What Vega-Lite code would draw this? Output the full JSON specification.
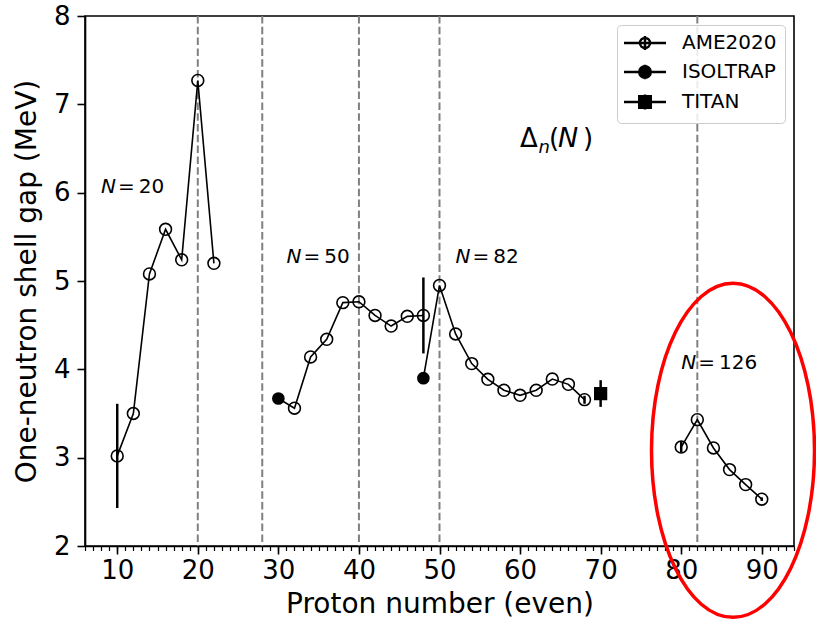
{
  "$schema": "https://vega.github.io/schema/vega-lite/v6.json",
  "width": 709,
  "height": 530,
  "autosize": "none",
  "padding": {"left": 85, "top": 16, "right": 22, "bottom": 76},
  "background": "white",
  "config": {
    "font": "DejaVu Sans",
    "view": {"stroke": "black", "strokeWidth": 1.6},
    "axis": {
      "grid": false,
      "domainColor": "black",
      "tickColor": "black",
      "labelColor": "black",
      "titleColor": "black",
      "labelFont": "DejaVu Sans",
      "titleFont": "DejaVu Sans",
      "labelFontSize": 26,
      "titleFontSize": 28,
      "titleFontWeight": "normal",
      "domainWidth": 1.6,
      "tickWidth": 1.6
    },
    "legend": {
      "labelFont": "DejaVu Sans",
      "labelFontSize": 20,
      "labelColor": "black",
      "padding": 8,
      "rowPadding": 4,
      "symbolOffset": 10,
      "labelOffset": 27,
      "symbolSize": 100,
      "symbolStrokeWidth": 2.5,
      "symbolStrokeColor": "black",
      "fillColor": "rgba(255,255,255,0.85)",
      "strokeColor": "#cccccc",
      "cornerRadius": 4
    }
  },
  "datasets": {
    "pts": [
      {"Z": 10, "gap": 3.02, "source": "AME2020", "N": "N20"},
      {"Z": 12, "gap": 3.50, "source": "AME2020", "N": "N20"},
      {"Z": 14, "gap": 5.08, "source": "AME2020", "N": "N20"},
      {"Z": 16, "gap": 5.585, "source": "AME2020", "N": "N20"},
      {"Z": 18, "gap": 5.24, "source": "AME2020", "N": "N20"},
      {"Z": 20, "gap": 7.27, "source": "AME2020", "N": "N20"},
      {"Z": 22, "gap": 5.20, "source": "AME2020", "N": "N20"},
      {"Z": 30, "gap": 3.67, "source": "ISOLTRAP", "N": "N50"},
      {"Z": 32, "gap": 3.56, "source": "AME2020", "N": "N50"},
      {"Z": 34, "gap": 4.14, "source": "AME2020", "N": "N50"},
      {"Z": 36, "gap": 4.34, "source": "AME2020", "N": "N50"},
      {"Z": 38, "gap": 4.755, "source": "AME2020", "N": "N50"},
      {"Z": 40, "gap": 4.765, "source": "AME2020", "N": "N50"},
      {"Z": 42, "gap": 4.61, "source": "AME2020", "N": "N50"},
      {"Z": 44, "gap": 4.49, "source": "AME2020", "N": "N50"},
      {"Z": 46, "gap": 4.60, "source": "AME2020", "N": "N50"},
      {"Z": 48, "gap": 4.61, "source": "AME2020", "N": "N50"},
      {"Z": 48, "gap": 3.90, "source": "ISOLTRAP", "N": "N82"},
      {"Z": 50, "gap": 4.95, "source": "AME2020", "N": "N82"},
      {"Z": 52, "gap": 4.40, "source": "AME2020", "N": "N82"},
      {"Z": 54, "gap": 4.065, "source": "AME2020", "N": "N82"},
      {"Z": 56, "gap": 3.887, "source": "AME2020", "N": "N82"},
      {"Z": 58, "gap": 3.763, "source": "AME2020", "N": "N82"},
      {"Z": 60, "gap": 3.706, "source": "AME2020", "N": "N82"},
      {"Z": 62, "gap": 3.763, "source": "AME2020", "N": "N82"},
      {"Z": 64, "gap": 3.89, "source": "AME2020", "N": "N82"},
      {"Z": 66, "gap": 3.83, "source": "AME2020", "N": "N82"},
      {"Z": 68, "gap": 3.657, "source": "AME2020", "N": "N82"},
      {"Z": 70, "gap": 3.725, "source": "TITAN", "N": "T82"},
      {"Z": 80, "gap": 3.12, "source": "AME2020", "N": "N126"},
      {"Z": 82, "gap": 3.43, "source": "AME2020", "N": "N126"},
      {"Z": 84, "gap": 3.11, "source": "AME2020", "N": "N126"},
      {"Z": 86, "gap": 2.865, "source": "AME2020", "N": "N126"},
      {"Z": 88, "gap": 2.695, "source": "AME2020", "N": "N126"},
      {"Z": 90, "gap": 2.53, "source": "AME2020", "N": "N126"}
    ],
    "errs": [
      {"Z": 10, "lo": 2.43, "hi": 3.61},
      {"Z": 48, "lo": 4.18, "hi": 5.04},
      {"Z": 68, "lo": 3.61, "hi": 3.70},
      {"Z": 70, "lo": 3.575, "hi": 3.877},
      {"Z": 80, "lo": 3.06, "hi": 3.18},
      {"Z": 90, "lo": 2.51, "hi": 2.55}
    ],
    "magic": [{"Z": 20}, {"Z": 28}, {"Z": 40}, {"Z": 50}, {"Z": 82}],
    "nlabels": [
      {"Z": 8, "gap": 6.0, "rest": "=\u200920"},
      {"Z": 31, "gap": 5.2, "rest": "=\u200950"},
      {"Z": 52, "gap": 5.2, "rest": "=\u200982"},
      {"Z": 80, "gap": 4.0, "rest": "=\u2009126"}
    ],
    "delta": [{"Z": 60, "gap": 6.517}],
    "circled": [{"Z": 86.43, "gap": 3.083}]
  },
  "layer": [
    {
      "data": {"name": "magic"},
      "mark": {"type": "rule", "color": "#808080", "strokeWidth": 2, "strokeDash": [7.5, 3.3]},
      "encoding": {
        "x": {
          "field": "Z", "type": "quantitative",
          "scale": {"domain": [6, 94], "nice": false, "zero": false},
          "axis": {"orient": "bottom", "values": [6,7,8,9,10,11,12,13,14,15,16,17,18,19,20,21,22,23,24,25,26,27,28,29,30,31,32,33,34,35,36,37,38,39,40,41,42,43,44,45,46,47,48,49,50,51,52,53,54,55,56,57,58,59,60,61,62,63,64,65,66,67,68,69,70,71,72,73,74,75,76,77,78,79,80,81,82,83,84,85,86,87,88,89,90,91,92,93,94], "labels": false, "domain": false, "tickSize": 4.5, "tickWidth": 1.2, "title": null}
        }
      }
    },
    {
      "layer": [
        {
          "data": {"name": "errs"},
          "mark": {"type": "rule", "color": "black", "strokeWidth": 2.5},
          "encoding": {
            "x": {
              "field": "Z", "type": "quantitative",
              "scale": {"domain": [6, 94], "nice": false, "zero": false},
              "axis": {"orient": "bottom", "values": [10, 20, 30, 40, 50, 60, 70, 80, 90], "tickSize": 8, "labelPadding": 3, "titlePadding": 7, "title": "Proton number (even)"},
              "title": "Proton number (even)"
            },
            "y": {
              "field": "lo", "type": "quantitative",
              "scale": {"domain": [2, 8], "nice": false, "zero": false},
              "axis": {"values": [2, 3, 4, 5, 6, 7, 8], "format": "d", "tickSize": 8, "labelPadding": 7, "titlePadding": 12, "title": "One-neutron shell gap (MeV)"},
              "title": "One-neutron shell gap (MeV)"
            },
            "y2": {"field": "hi"}
          }
        },
        {
          "data": {"name": "pts"},
          "transform": [{"filter": "datum.source != 'TITAN'"}],
          "mark": {"type": "line", "color": "black", "strokeWidth": 1.6},
          "encoding": {
            "x": {"field": "Z", "type": "quantitative", "title": "Proton number (even)"},
            "y": {"field": "gap", "type": "quantitative", "title": "One-neutron shell gap (MeV)"},
            "detail": {"field": "N"},
            "order": {"field": "Z", "type": "quantitative"}
          }
        },
        {
          "data": {"name": "pts"},
          "transform": [{"filter": "datum.source == 'AME2020'"}],
          "mark": {"type": "point", "shape": "circle", "filled": false, "stroke": "black", "strokeWidth": 1.6, "size": 140, "opacity": 1},
          "encoding": {
            "x": {"field": "Z", "type": "quantitative", "title": "Proton number (even)"},
            "y": {"field": "gap", "type": "quantitative", "title": "One-neutron shell gap (MeV)"}
          }
        },
        {
          "data": {"name": "pts"},
          "transform": [{"filter": "datum.source == 'ISOLTRAP'"}],
          "mark": {"type": "point", "shape": "circle", "filled": true, "fill": "black", "size": 160, "opacity": 1},
          "encoding": {
            "x": {"field": "Z", "type": "quantitative", "title": "Proton number (even)"},
            "y": {"field": "gap", "type": "quantitative", "title": "One-neutron shell gap (MeV)"}
          }
        },
        {
          "data": {"name": "pts"},
          "transform": [{"filter": "datum.source == 'TITAN'"}],
          "mark": {"type": "point", "shape": "square", "filled": true, "fill": "black", "size": 175, "opacity": 1},
          "encoding": {
            "x": {"field": "Z", "type": "quantitative", "title": "Proton number (even)"},
            "y": {"field": "gap", "type": "quantitative", "title": "One-neutron shell gap (MeV)"}
          }
        },
        {
          "data": {"name": "nlabels"},
          "mark": {"type": "text", "text": "N", "fontStyle": "italic", "fontSize": 20, "align": "left", "baseline": "alphabetic", "color": "black", "font": "DejaVu Sans"},
          "encoding": {
            "x": {"field": "Z", "type": "quantitative", "title": "Proton number (even)"},
            "y": {"field": "gap", "type": "quantitative", "title": "One-neutron shell gap (MeV)"}
          }
        },
        {
          "data": {"name": "nlabels"},
          "mark": {"type": "text", "fontSize": 20, "align": "left", "baseline": "alphabetic", "dx": 17, "color": "black", "font": "DejaVu Sans"},
          "encoding": {
            "x": {"field": "Z", "type": "quantitative", "title": "Proton number (even)"},
            "y": {"field": "gap", "type": "quantitative", "title": "One-neutron shell gap (MeV)"},
            "text": {"field": "rest"}
          }
        },
        {
          "data": {"name": "delta"},
          "mark": {"type": "text", "text": "Δ", "fontSize": 26, "align": "left", "baseline": "alphabetic", "color": "black", "font": "DejaVu Sans"},
          "encoding": {
            "x": {"field": "Z", "type": "quantitative", "title": "Proton number (even)"},
            "y": {"field": "gap", "type": "quantitative", "title": "One-neutron shell gap (MeV)"}
          }
        },
        {
          "data": {"name": "delta"},
          "mark": {"type": "text", "text": "n", "fontSize": 18, "fontStyle": "italic", "align": "left", "baseline": "alphabetic", "dx": 18.5, "dy": 6.5, "color": "black", "font": "DejaVu Sans"},
          "encoding": {
            "x": {"field": "Z", "type": "quantitative", "title": "Proton number (even)"},
            "y": {"field": "gap", "type": "quantitative", "title": "One-neutron shell gap (MeV)"}
          }
        },
        {
          "data": {"name": "delta"},
          "mark": {"type": "text", "text": "(", "fontSize": 26, "align": "left", "baseline": "alphabetic", "dx": 29, "color": "black", "font": "DejaVu Sans"},
          "encoding": {
            "x": {"field": "Z", "type": "quantitative", "title": "Proton number (even)"},
            "y": {"field": "gap", "type": "quantitative", "title": "One-neutron shell gap (MeV)"}
          }
        },
        {
          "data": {"name": "delta"},
          "mark": {"type": "text", "text": "N", "fontSize": 27, "fontStyle": "italic", "align": "left", "baseline": "alphabetic", "dx": 38, "color": "black", "font": "DejaVu Sans"},
          "encoding": {
            "x": {"field": "Z", "type": "quantitative", "title": "Proton number (even)"},
            "y": {"field": "gap", "type": "quantitative", "title": "One-neutron shell gap (MeV)"}
          }
        },
        {
          "data": {"name": "delta"},
          "mark": {"type": "text", "text": ")", "fontSize": 26, "align": "left", "baseline": "alphabetic", "dx": 63, "color": "black", "font": "DejaVu Sans"},
          "encoding": {
            "x": {"field": "Z", "type": "quantitative", "title": "Proton number (even)"},
            "y": {"field": "gap", "type": "quantitative", "title": "One-neutron shell gap (MeV)"}
          }
        },
        {
          "data": {"name": "circled"},
          "mark": {"type": "point", "shape": "M-0.488,0A0.488,1,0,1,1,0.488,0A0.488,1,0,1,1,-0.488,0Z", "size": 111556, "filled": false, "stroke": "#ff0000", "strokeWidth": 3.5, "opacity": 1},
          "encoding": {
            "x": {"field": "Z", "type": "quantitative", "title": "Proton number (even)"},
            "y": {"field": "gap", "type": "quantitative", "title": "One-neutron shell gap (MeV)"}
          }
        },
        {
          "data": {"name": "pts"},
          "mark": {"type": "point", "opacity": 0, "filled": true, "strokeWidth": 2.5},
          "encoding": {
            "x": {"field": "Z", "type": "quantitative", "title": "Proton number (even)"},
            "y": {"field": "gap", "type": "quantitative", "title": "One-neutron shell gap (MeV)"},
            "shape": {
              "field": "source", "type": "nominal",
              "scale": {
                "domain": ["AME2020", "ISOLTRAP", "TITAN"],
                "range": [
                  "M-4.2,0L4.2,0M0,-1.4L0,1.4M1,0A1,1,0,1,1,-1,0A1,1,0,1,1,1,0Z",
                  "M-4.2,0L4.2,0M0,-1.45L0,1.45M1.15,0A1.15,1.15,0,1,1,-1.15,0A1.15,1.15,0,1,1,1.15,0Z",
                  "M-4.2,0L4.2,0M0,-1.5L0,1.5M-1.15,-1.15L1.15,-1.15L1.15,1.15L-1.15,1.15Z"
                ]
              },
              "legend": {"orient": "none", "legendX": 532, "legendY": 9, "title": null, "symbolOpacity": 1, "symbolStrokeColor": "black", "symbolStrokeWidth": 2.5}
            },
            "fill": {
              "field": "source", "type": "nominal",
              "scale": {"domain": ["AME2020", "ISOLTRAP", "TITAN"], "range": ["white", "black", "black"]},
              "legend": {"orient": "none", "legendX": 532, "legendY": 9, "title": null, "symbolOpacity": 1, "symbolStrokeColor": "black", "symbolStrokeWidth": 2.5}
            },
            "stroke": {
              "field": "source", "type": "nominal",
              "scale": {"domain": ["AME2020", "ISOLTRAP", "TITAN"], "range": ["black", "black", "black"]},
              "legend": {"orient": "none", "legendX": 532, "legendY": 9, "title": null, "symbolOpacity": 1, "symbolStrokeColor": "black", "symbolStrokeWidth": 2.5}
            }
          }
        }
      ]
    }
  ],
  "resolve": {"axis": {"x": "independent"}}
}
